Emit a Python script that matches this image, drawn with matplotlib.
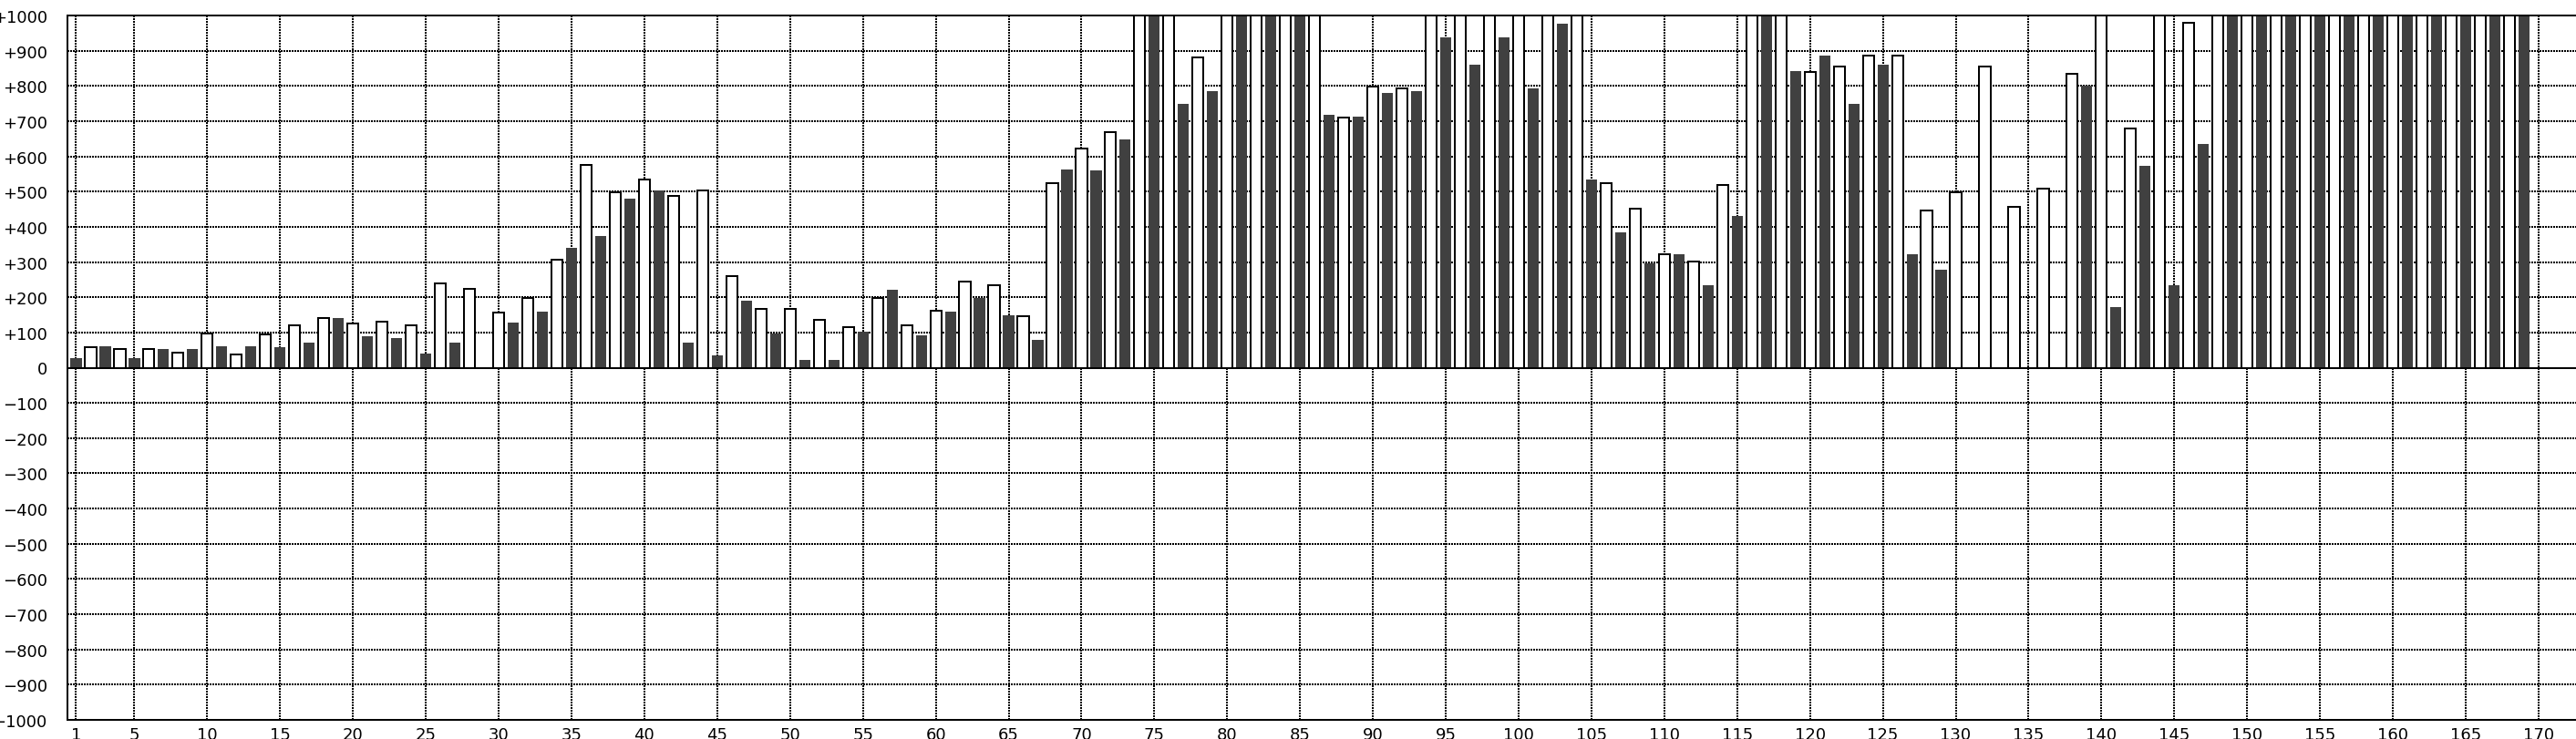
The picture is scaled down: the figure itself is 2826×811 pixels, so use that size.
import matplotlib
matplotlib.use("Agg")
import matplotlib.pyplot as plt

# ---- data ----
dark_positions = list(range(1, 170, 2))
dark_values = [26, 62, 26, 52, 52, 62, 62, 57, 72, 140, 88, 83, 41, 72, 0, 129, 160, 341,
               373, 481, 502, 72, 36, 191, 98, 21, 21, 103, 222, 93, 160, 197, 150, 78,
               564, 559, 647, 1100, 750, 786, 1100, 1100, 1100, 719, 714, 781, 786, 937,
               859, 937, 792, 978, 533, 383, 295, 321, 233, 430, 1100, 843, 885, 750, 859,
               321, 279, 0, 0, 0, 0, 802, 171, 574, 233, 636,
               1100, 1100, 1100, 1100, 1100, 1100, 1100, 1100, 1100, 1100, 1100]
white_positions = list(range(2, 171, 2))
white_values = [57, 52, 52, 42, 98, 37, 94, 120, 140, 125, 130, 120, 239, 223, 156, 197,
                306, 575, 498, 534, 487, 503, 259, 166, 166, 135, 115, 197, 120, 161, 244,
                234, 146, 523, 622, 668, 1100, 1100, 880, 1100, 1100, 1100, 1100, 710, 797,
                792, 1100, 1100, 1100, 1100, 1100, 1100, 523, 451, 322, 301, 518, 1100,
                1100, 839, 855, 886, 886, 446, 497, 855, 456, 508, 834, 1100, 679, 1100, 979,
                1100, 1100, 1100, 1100, 1100, 1100, 1100, 1100, 1100, 1100, 1100, 0]
x_ticks = [1] + list(range(5, 171, 5))
y_ticks = list(range(-1000, 1001, 100))
y_labels = [("+%d" % v) if v > 0 else ("0" if v == 0 else "\u2212%d" % (-v)) for v in y_ticks]

W, H = 2826, 812
fig = plt.figure(figsize=(W / 100, H / 100), dpi=100)
left, right, top, bottom = 74, W, 18, 791
ax = fig.add_axes([left / W, 1 - bottom / H, (right - left) / W, (bottom - top) / H])

ax.bar(dark_positions, dark_values, width=0.76, color="#404040", linewidth=0,
       antialiased=False, zorder=2)
ax.bar(white_positions, white_values, width=0.76, color="white", edgecolor="black",
       linewidth=1.2, antialiased=False, zorder=2)

ax.axhline(0, color="black", linewidth=1.44, antialiased=False, zorder=3)

ax.set_xlim(0.406, 172.57)
ax.set_ylim(-1000, 1000)
ax.set_xticks(x_ticks)
ax.set_xticklabels([str(v) for v in x_ticks])
ax.set_yticks(y_ticks)
ax.set_yticklabels(y_labels)
ax.tick_params(axis="both", length=0, labelsize=13, colors="black")
ax.tick_params(axis="y", pad=16)
ax.tick_params(axis="x", pad=5)

ax.grid(True, color="black", linestyle=(0, (1, 1)), linewidth=1.44, zorder=0,
        antialiased=False)
ax.set_axisbelow(True)

for s in ["left", "top", "bottom"]:
    ax.spines[s].set_linewidth(1.44)
    ax.spines[s].set_color("black")
    ax.spines[s].set_antialiased(False)
ax.spines["right"].set_visible(False)

fig.savefig("out.png", dpi=100)
